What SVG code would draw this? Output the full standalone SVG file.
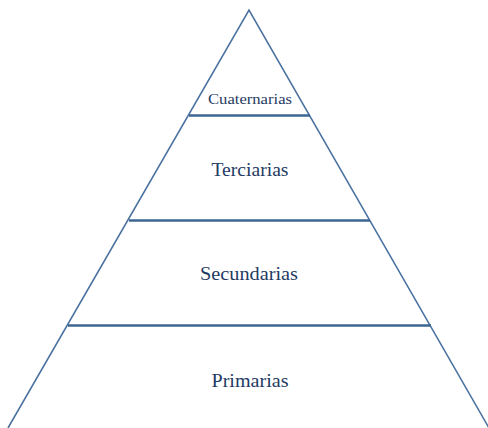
<svg xmlns="http://www.w3.org/2000/svg" width="488" height="428" viewBox="0 0 488 428">
<style>
.edge{stroke:#4a72a0;stroke-width:1.6;fill:none}
.div{stroke:#3d6591;stroke-width:2.4}
text{font-family:"Liberation Serif","Times New Roman",serif;fill:#1f3b63;text-anchor:middle}
</style>
<rect width="488" height="428" fill="#fff"/>
<g id="connectors">
<polyline class="edge" points="8,428 249,10 489,428"/>
<line class="div" x1="189" y1="115.5" x2="310" y2="115.5"/>
<line class="div" x1="129" y1="220.5" x2="370" y2="220.5"/>
<line class="div" x1="68" y1="325.5" x2="431" y2="325.5"/>
</g>
<g id="cuaternarias"><text x="250" y="104" font-size="15" textLength="84" lengthAdjust="spacingAndGlyphs">Cuaternarias</text></g>
<g id="terciarias"><text x="250" y="176" font-size="18" textLength="77" lengthAdjust="spacingAndGlyphs">Terciarias</text></g>
<g id="secundarias"><text x="249" y="280" font-size="18" textLength="98" lengthAdjust="spacingAndGlyphs">Secundarias</text></g>
<g id="primarias"><text x="250" y="387" font-size="18" textLength="77" lengthAdjust="spacingAndGlyphs">Primarias</text></g>
</svg>
